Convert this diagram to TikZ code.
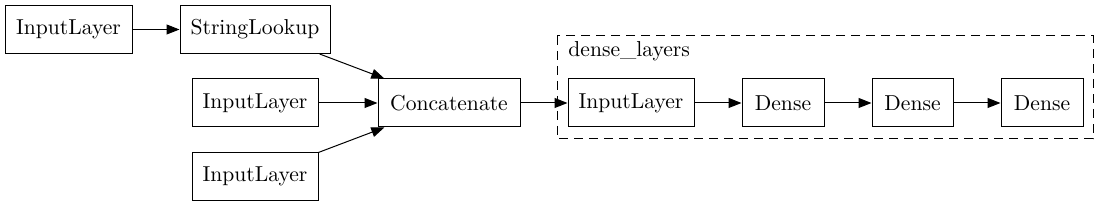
\documentclass[tikz,border=0pt]{standalone}
\usetikzlibrary{arrows.meta,positioning}
\tikzset{
  layer/.style={draw=black, line width=0.5pt, minimum height=24pt, inner sep=0pt,
    font=\fontsize{10.8}{12}\selectfont},
  flow/.style={-{Triangle[length=6.5pt,width=5pt]}, line width=0.5pt},
  cluster/.style={draw=black, line width=0.5pt, dash pattern=on 4.5pt off 3pt},
}
\begin{document}
\begin{tikzpicture}[x=0.5pt, y=-0.5pt]
\useasboundingbox (0,0) rectangle (1109,207);

%% Inputs
\node[layer, minimum width=63.5pt] (in1) at (68.5,29.5) {InputLayer};
\node[layer, minimum width=75pt] (lookup) at (255,29.5) {StringLookup};
\node[layer, minimum width=63pt] (in2) at (255,103) {InputLayer};
\node[layer, minimum width=63pt] (in3) at (255,176.5) {InputLayer};

%% Merge
\node[layer, minimum width=71pt] (concat) at (449,103) {Concatenate};

%% dense_layers cluster
\draw[cluster] (557,36) rectangle (1093,139);
\node[anchor=base west, inner sep=0pt, font=\fontsize{10.8}{12}\selectfont]
  (clusterlabel) at (568,57) {dense\_layers};
\node[layer, minimum width=63pt] (in4) at (631,103) {InputLayer};
\node[layer, minimum width=41pt] (dense1) at (783,103) {Dense};
\node[layer, minimum width=40.5pt] (dense2) at (912.5,103) {Dense};
\node[layer, minimum width=41pt] (dense3) at (1042,103) {Dense};

%% Edges
\draw[flow] (in1) -- (lookup);
\draw[flow] (lookup) -- (concat);
\draw[flow] (in2) -- (concat);
\draw[flow] (in3) -- (concat);
\draw[flow] (concat) -- (in4);
\draw[flow] (in4) -- (dense1);
\draw[flow] (dense1) -- (dense2);
\draw[flow] (dense2) -- (dense3);

\end{tikzpicture}
\end{document}
